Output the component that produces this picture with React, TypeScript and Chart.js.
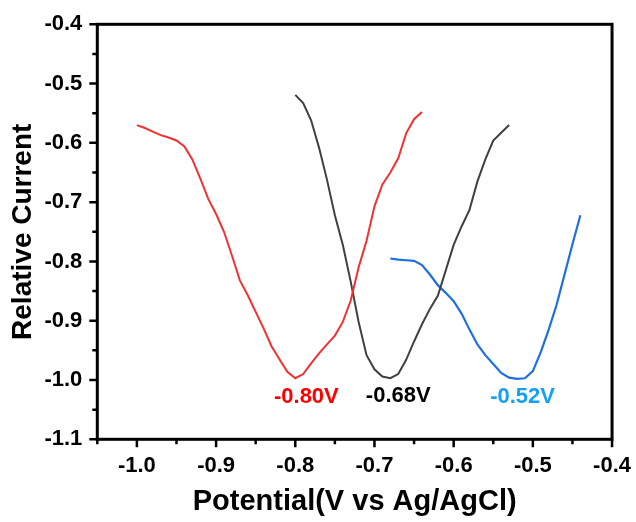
import React, { useEffect, useRef } from "react";
import { Chart, registerables } from "chart.js";

Chart.register(...registerables);

// ---- data ----
const redX = [-1.0, -0.99, -0.98, -0.97, -0.96, -0.95, -0.94, -0.93, -0.92, -0.91, -0.9, -0.89, -0.88, -0.87, -0.86, -0.85, -0.84, -0.83, -0.82, -0.81, -0.8, -0.79, -0.78, -0.77, -0.76, -0.75, -0.74, -0.73, -0.72, -0.71, -0.7, -0.69, -0.68, -0.67, -0.66, -0.65, -0.64];
const redY = [-0.57, -0.575, -0.581, -0.587, -0.591, -0.596, -0.606, -0.628, -0.66, -0.694, -0.72, -0.75, -0.79, -0.832, -0.857, -0.885, -0.913, -0.943, -0.965, -0.986, -0.997, -0.99, -0.972, -0.955, -0.94, -0.925, -0.902, -0.866, -0.81, -0.765, -0.707, -0.67, -0.65, -0.626, -0.584, -0.56, -0.548];

const blackX = [-0.8, -0.79, -0.78, -0.77, -0.76, -0.75, -0.74, -0.73, -0.72, -0.71, -0.7, -0.69, -0.68, -0.67, -0.66, -0.65, -0.64, -0.63, -0.62, -0.61, -0.6, -0.59, -0.58, -0.57, -0.56, -0.55, -0.54, -0.53];
const blackY = [-0.519, -0.533, -0.562, -0.608, -0.662, -0.722, -0.772, -0.834, -0.902, -0.958, -0.982, -0.994, -0.997, -0.99, -0.966, -0.935, -0.906, -0.88, -0.858, -0.815, -0.772, -0.741, -0.713, -0.665, -0.628, -0.596, -0.583, -0.57];

const blueX = [-0.68, -0.67, -0.66, -0.65, -0.64, -0.63, -0.62, -0.61, -0.6, -0.59, -0.58, -0.57, -0.56, -0.55, -0.54, -0.53, -0.52, -0.51, -0.5, -0.49, -0.48, -0.47, -0.46, -0.45, -0.44];
const blueY = [-0.795, -0.797, -0.798, -0.799, -0.806, -0.822, -0.84, -0.853, -0.867, -0.888, -0.915, -0.94, -0.958, -0.973, -0.988, -0.996, -0.998, -0.997, -0.985, -0.953, -0.915, -0.873, -0.822, -0.771, -0.722];

const xMajor = [-1.0, -0.9, -0.8, -0.7, -0.6, -0.5, -0.4];
const xMinor = [-1.05, -0.95, -0.85, -0.75, -0.65, -0.55, -0.45];
const yMajor = [-0.4, -0.5, -0.6, -0.7, -0.8, -0.9, -1.0, -1.1];
const yMinor = [-0.45, -0.55, -0.65, -0.75, -0.85, -0.95, -1.05];

const peakText = ["-0.80V", "-0.68V", "-0.52V"];
const peakX = [-0.786, -0.67, -0.513];
const peakY = [-1.029, -1.027, -1.029];
const peakColor = ["#ff0000", "#000000", "#14a0f5"];

const FONT = "'Liberation Sans', Arial, sans-serif";

const zip = (xs: number[], ys: number[]) => xs.map((x, i) => ({ x, y: ys[i] }));

const framePlugin = {
  id: "frameAndTicks",
  afterDraw(chart: any) {
    const { ctx, chartArea } = chart;
    const xs = chart.scales.x;
    const ys = chart.scales.y;
    ctx.save();
    ctx.strokeStyle = "#000";
    ctx.lineWidth = 3;
    ctx.strokeRect(chartArea.left, chartArea.top, chartArea.right - chartArea.left, chartArea.bottom - chartArea.top);
    ctx.lineWidth = 2.5;
    ctx.beginPath();
    const bottom = chartArea.bottom;
    const left = chartArea.left;
    xMajor.forEach((v) => {
      const p = xs.getPixelForValue(v);
      ctx.moveTo(p, bottom);
      ctx.lineTo(p, bottom + 8);
    });
    xMinor.forEach((v) => {
      const p = xs.getPixelForValue(v);
      ctx.moveTo(p, bottom);
      ctx.lineTo(p, bottom + 5);
    });
    yMajor.forEach((v) => {
      const p = ys.getPixelForValue(v);
      ctx.moveTo(left, p);
      ctx.lineTo(left - 8, p);
    });
    yMinor.forEach((v) => {
      const p = ys.getPixelForValue(v);
      ctx.moveTo(left, p);
      ctx.lineTo(left - 5, p);
    });
    ctx.stroke();

    ctx.font = `bold 22px ${FONT}`;
    ctx.textAlign = "center";
    ctx.textBaseline = "middle";
    peakText.forEach((t, i) => {
      ctx.fillStyle = peakColor[i];
      ctx.fillText(t, xs.getPixelForValue(peakX[i]), ys.getPixelForValue(peakY[i]));
    });
    ctx.restore();
  },
};

export default function App() {
  const ref = useRef<HTMLCanvasElement | null>(null);
  useEffect(() => {
    if (!ref.current) return;
    const tickFont = { family: FONT, size: 22, weight: "bold" as const };
    const chart = new Chart(ref.current, {
      type: "line",
      data: {
        datasets: [
          { data: zip(redX, redY), borderColor: "#f03232", borderWidth: 2, pointRadius: 0, tension: 0, fill: false },
          { data: zip(blackX, blackY), borderColor: "#404040", borderWidth: 2, pointRadius: 0, tension: 0, fill: false },
          { data: zip(blueX, blueY), borderColor: "#1f6fe0", borderWidth: 2.2, pointRadius: 0, tension: 0, fill: false },
        ],
      },
      options: {
        animation: false,
        responsive: false,
        layout: { padding: { top: 24.3, right: 23.3, left: 0, bottom: 0 } },
        plugins: { legend: { display: false }, tooltip: { enabled: false } },
        scales: {
          x: {
            type: "linear",
            min: -1.05,
            max: -0.4,
            afterBuildTicks: (s: any) => {
              s.ticks = xMajor.map((v) => ({ value: v }));
            },
            afterFit: (s: any) => {
              s.height = 82.7;
            },
            ticks: {
              color: "#000",
              font: tickFont,
              padding: 5,
              maxRotation: 0,
              autoSkip: false,
              callback: (v: any) => Number(v).toFixed(1),
            },
            grid: { display: true, drawOnChartArea: false, drawTicks: true, tickLength: 8, color: "rgba(0,0,0,0)" },
            border: { display: false },
            title: {
              display: true,
              text: "Potential(V vs Ag/AgCl)",
              color: "#000",
              font: { family: FONT, size: 29, weight: "bold" },
              padding: { top: 0, bottom: 3 },
            },
          },
          y: {
            type: "linear",
            min: -1.1,
            max: -0.4,
            afterBuildTicks: (s: any) => {
              s.ticks = yMajor.map((v) => ({ value: v }));
            },
            afterFit: (s: any) => {
              s.width = 97.3;
            },
            ticks: {
              color: "#000",
              font: tickFont,
              padding: 7,
              autoSkip: false,
              callback: (v: any) => Number(v).toFixed(1),
            },
            grid: { display: true, drawOnChartArea: false, drawTicks: true, tickLength: 8, color: "rgba(0,0,0,0)" },
            border: { display: false },
            title: {
              display: true,
              text: "Relative Current",
              color: "#000",
              font: { family: FONT, size: 28, weight: "bold" },
              padding: { top: 6, bottom: 0 },
            },
          },
        },
      },
      plugins: [framePlugin],
    });
    return () => chart.destroy();
  }, []);
  return (
    <div style={{ position: "absolute", left: 0, top: 0, width: 636, height: 522, background: "#fff" }}>
      <canvas ref={ref} width={636} height={522} style={{ display: "block" }} />
    </div>
  );
}
